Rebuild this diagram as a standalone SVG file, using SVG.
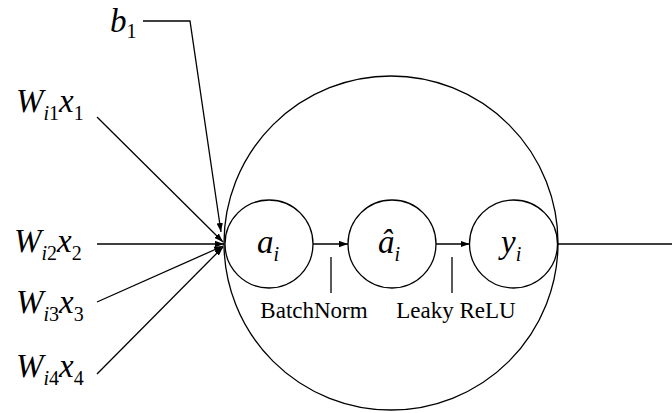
<svg xmlns="http://www.w3.org/2000/svg" width="672" height="413" viewBox="0 0 672 413">
  <style>
    .ln { fill: none; stroke: #000; stroke-width: 1.3; }
    .arr { marker-end: url(#ah); }
    .m { font-family: "Liberation Serif", "Times New Roman", serif; font-size: 33px; fill: #000; }
    .it { font-style: italic; }
    .sub { font-size: 20px; }
    .cap { font-family: "Liberation Serif", "Times New Roman", serif; font-size: 23px; fill: #000; }
  </style>
  <defs>
    <marker id="ah" viewBox="0 0 10 7" refX="10" refY="3.5" markerWidth="9" markerHeight="7" markerUnits="userSpaceOnUse" orient="auto">
      <path d="M0,0 L10,3.5 L0,7 z" fill="#000"/>
    </marker>
  </defs>
  <rect width="672" height="413" fill="#fff"/>

  <!-- neuron body -->
  <g id="neuron">
    <circle class="ln" cx="391" cy="243" r="167"/>
  </g>

  <!-- inner stages -->
  <g id="node-a">
    <circle class="ln" cx="269" cy="244" r="44"/>
    <text class="m it" x="257" y="253">a<tspan class="sub" dy="8">i</tspan></text>
  </g>
  <g id="node-ahat">
    <circle class="ln" cx="392" cy="244" r="44"/>
    <text class="m it" x="378" y="253">â<tspan class="sub" dy="8">i</tspan></text>
  </g>
  <g id="node-y">
    <circle class="ln" cx="513.5" cy="244" r="44"/>
    <text class="m it" x="501" y="253">y<tspan class="sub" dy="8">i</tspan></text>
  </g>

  <!-- input labels -->
  <g id="in-b1">
    <text class="m it" x="110" y="32">b<tspan class="sub" dy="6" font-style="normal">1</tspan></text>
  </g>
  <g id="in-x1">
    <text class="m it" x="16" y="112">W<tspan class="sub" dy="8">i</tspan><tspan class="sub" font-style="normal">1</tspan><tspan dy="-8">x</tspan><tspan class="sub" dy="8" font-style="normal">1</tspan></text>
  </g>
  <g id="in-x2">
    <text class="m it" x="14" y="252">W<tspan class="sub" dy="8">i</tspan><tspan class="sub" font-style="normal">2</tspan><tspan dy="-8">x</tspan><tspan class="sub" dy="8" font-style="normal">2</tspan></text>
  </g>
  <g id="in-x3">
    <text class="m it" x="16" y="313">W<tspan class="sub" dy="8">i</tspan><tspan class="sub" font-style="normal">3</tspan><tspan dy="-8">x</tspan><tspan class="sub" dy="8" font-style="normal">3</tspan></text>
  </g>
  <g id="in-x4">
    <text class="m it" x="16" y="377">W<tspan class="sub" dy="8">i</tspan><tspan class="sub" font-style="normal">4</tspan><tspan dy="-8">x</tspan><tspan class="sub" dy="8" font-style="normal">4</tspan></text>
  </g>

  <!-- stage captions -->
  <g id="cap-bn">
    <text class="cap" x="314" y="318" text-anchor="middle">BatchNorm</text>
  </g>
  <g id="cap-relu">
    <text class="cap" x="456" y="318" text-anchor="middle">Leaky ReLU</text>
  </g>

  <!-- connectors -->
  <g id="connectors">
    <polyline class="ln arr" points="143,21 190,21 221,232"/>
    <line class="ln arr" x1="97" y1="117" x2="223" y2="242"/>
    <line class="ln arr" x1="97" y1="244" x2="224" y2="244"/>
    <line class="ln arr" x1="97" y1="302" x2="223" y2="246"/>
    <line class="ln arr" x1="97" y1="374" x2="223" y2="247"/>
    <line class="ln arr" x1="313" y1="244" x2="348" y2="244"/>
    <line class="ln arr" x1="436" y1="244" x2="469.5" y2="244"/>
    <line class="ln" x1="558" y1="244" x2="672" y2="244"/>
    <line class="ln" x1="331" y1="257" x2="331" y2="293"/>
    <line class="ln" x1="452" y1="257" x2="452" y2="293"/>
  </g>
</svg>
